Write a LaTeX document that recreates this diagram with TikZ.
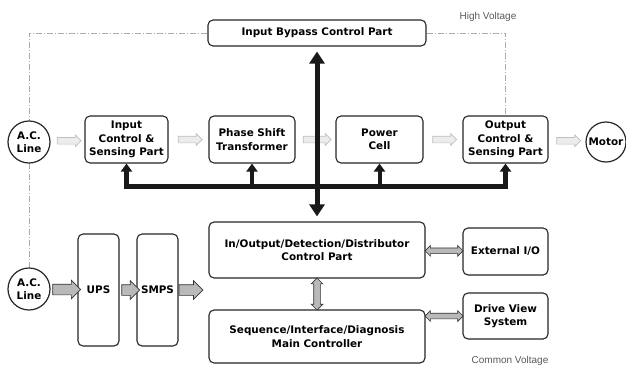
\documentclass[tikz,border=0pt]{standalone}
\usepackage{fontspec}
\setmainfont{DejaVu Sans}
\newfontfamily\lblfont{Liberation Sans}
\usetikzlibrary{shapes.arrows,arrows.meta,calc}
\pgfdeclarelayer{bglayer}
\pgfsetlayers{bglayer,main}
\begin{document}
\begin{tikzpicture}[x=1pt,y=-1pt,
  box/.style={draw=black!85, line width=1.1pt, rounded corners=5pt, fill=white,
    align=center, inner sep=1pt, font=\fontsize{10.4}{13.4}\selectfont\bfseries},
  circ/.style={circle, draw=black!85, line width=1.2pt, fill=white, align=center,
    inner sep=0pt, minimum size=42pt, font=\fontsize{10.4}{13}\selectfont\bfseries},
  larrow/.style={single arrow, draw=gray!50, fill=gray!15, line width=0.7pt,
    inner xsep=0pt, inner ysep=3pt, single arrow head extend=2.5pt, minimum height=24pt},
  darrow/.style={single arrow, draw=black!80, fill=gray!55, line width=0.7pt,
    inner xsep=0pt, inner ysep=5pt, single arrow head extend=4pt},
  dblarrow/.style={double arrow, draw=black!80, fill=gray!55, line width=0.7pt,
    inner xsep=0pt, inner ysep=2.5pt, double arrow head extend=2.5pt, minimum height=38pt},
  bus/.style={line width=5pt, black!90, line join=miter},
  mainhead/.style={arrows={{Triangle[width=15pt,length=12pt]}-{Triangle[width=15pt,length=12pt]}}},
  branch/.style={line width=4pt, black!90, -{Triangle[width=11pt,length=8pt]}},
  hv/.style={gray!65, line width=0.9pt, dash pattern=on 6pt off 2pt on 1pt off 2pt},
  lbl/.style={font=\lblfont\fontsize{10}{12}\selectfont, text=black!65}
]
\useasboundingbox (0,0) rectangle (626,367);

\node[box, minimum width=218pt, minimum height=26pt] (byp) at (317,33) {Input Bypass Control Part};
\node[circ] (ac1) at (29,142) {A.C.\\Line};
\node[circ] (ac2) at (29,289) {A.C.\\Line};
\node[box, minimum width=83pt, minimum height=47pt] (ics) at (126.5,139.5) {Input\\Control \&\\Sensing Part};
\node[box, minimum width=86pt, minimum height=47pt] (pst) at (252,139.5) {Phase Shift\\Transformer};
\node[box, minimum width=87pt, minimum height=47pt] (pc) at (379.5,139.5) {Power\\Cell};
\node[box, minimum width=85pt, minimum height=47pt] (ocs) at (505.5,139.5) {Output\\Control \&\\Sensing Part};
\node[circ, minimum size=40pt] (mot) at (606,142) {Motor};

\node[box, minimum width=216pt, minimum height=56pt] (io) at (317,250) {In/Output/Detection/Distributor\\Control Part};
\node[box, minimum width=216pt, minimum height=53pt] (seq) at (317,336.5) {Sequence/Interface/Diagnosis\\Main Controller};
\node[box, minimum width=85pt, minimum height=47pt] (ext) at (505.5,251.5) {External I/O};
\node[box, minimum width=85pt, minimum height=46pt] (dvs) at (505.5,316) {Drive View\\System};
\node[box, minimum width=41pt, minimum height=112pt] (ups) at (98.5,290) {UPS};
\node[box, minimum width=41pt, minimum height=112pt] (smps) at (157.5,290) {SMPS};

% high voltage boundary (under the nodes)
\begin{pgfonlayer}{bglayer}
\draw[hv] (byp.west) -- (byp.west -| ac1) -- ([yshift=-3pt]ac2.north);
\draw[hv] (byp.east) -| (ocs.north);
\end{pgfonlayer}

% light power-flow arrows
\node[larrow] (f1) at ($(ac1.east)!0.5!(ics.west)$) {};
\node[larrow] (f2) at ($(ics.east)!0.5!(pst.west)$) {};
\node[larrow, minimum height=28pt] (f3) at ($(pst.east)!0.5!(pc.west)$) {};
\node[larrow] (f4) at ($(pc.east)!0.5!(ocs.west)$) {};
\node[larrow] (f5) at ($(ocs.east)!0.5!(mot.west)$) {};

% dark supply arrows
\node[darrow, minimum height=28pt] (s1) at ($(ac2.east)!0.5!(ups.west)$) {};
\node[darrow, minimum height=18pt] (s2) at ($(ups.east)!0.5!(smps.west)$) {};
\node[darrow, minimum height=24pt, anchor=tail] (s3) at (smps.east) {};

% double arrows
\node[dblarrow] (d1) at ($(io.east)!0.5!(ext.west)$) {};
\node[dblarrow] (d2) at ($(seq.east |- dvs.west)!0.5!(dvs.west)$) {};
\node[dblarrow, minimum height=32pt, inner xsep=3pt, inner ysep=0pt, shape border rotate=90] (d3) at ($(io.south)!0.5!(seq.north)$) {};

% control bus
\coordinate (busy) at (0,186);
\draw[bus, arrows={{Triangle[width=11pt,length=8pt]}-{Triangle[width=11pt,length=8pt]}}]
  (ics.south) -- (ics.south |- busy) -- (ocs.south |- busy) -- (ocs.south);
\draw[branch] (pst.south |- busy) -- (pst.south);
\draw[branch] (pc.south |- busy) -- (pc.south);
\draw[bus, mainhead, shorten <=5pt, shorten >=5pt] (byp.south) -- (io.north);

% labels
\node[lbl] (hvl) at (488,17) {High Voltage};
\node[lbl] (cvl) at (510,361) {Common Voltage};
\end{tikzpicture}
\end{document}
